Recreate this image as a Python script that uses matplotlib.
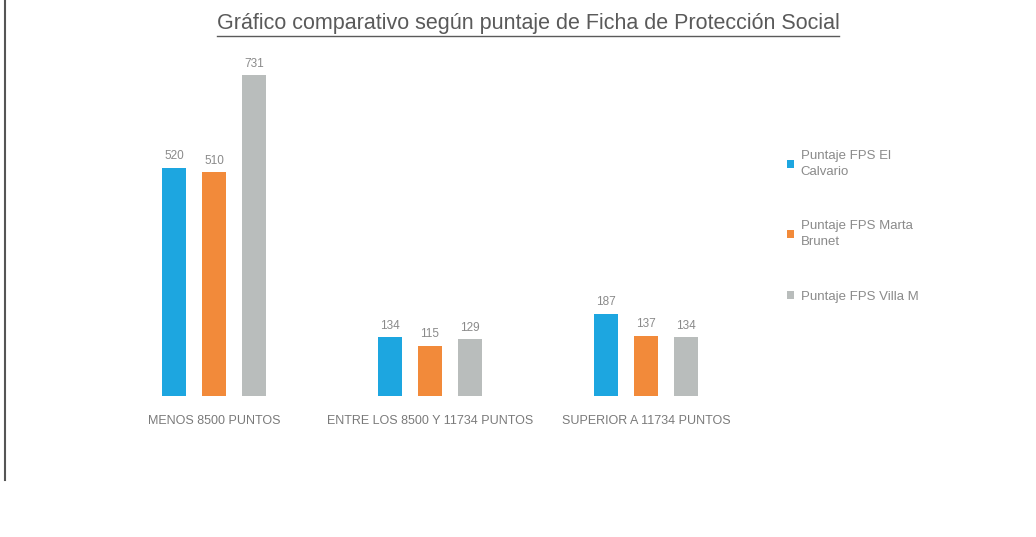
import matplotlib
matplotlib.use("Agg")
import matplotlib.pyplot as plt
from matplotlib.lines import Line2D
from matplotlib.patches import Patch
import numpy as np

categories = ["MENOS 8500 PUNTOS", "ENTRE LOS 8500 Y 11734 PUNTOS", "SUPERIOR A 11734 PUNTOS"]
series_names = ["Puntaje FPS El\nCalvario", "Puntaje FPS Marta\nBrunet", "Puntaje FPS Villa M"]
calvario = [520, 134, 187]
brunet = [510, 115, 137]
villa = [731, 129, 134]
title = "Gráfico comparativo según puntaje de Ficha de Protección Social"

colors = ["#1da6e0", "#f28a3a", "#b9bdbc"]
text_gray = "#7a7a7a"

plt.rcParams['font.family'] = ['Liberation Sans', 'DejaVu Sans']

W, H = 1036, 537
fig = plt.figure(figsize=(W / 100, H / 100), dpi=100)
fig.patch.set_facecolor("white")

# axes placement in pixels
left_px, right_px, top_px, base_px = 100, 760, 60, 396
ax = fig.add_axes([left_px / W, (H - base_px) / H, (right_px - left_px) / W, (base_px - top_px) / H])
ax.set_facecolor("none")

x = np.arange(len(categories))
width = 0.111
offset = 0.185
all_series = [calvario, brunet, villa]
for i, (vals, col, name) in enumerate(zip(all_series, colors, series_names)):
    bars = ax.bar(x + (i - 1) * offset, vals, width, color=col, label=name)
    for b, v in zip(bars, vals):
        ax.annotate(str(v), (b.get_x() + b.get_width() / 2, v), xytext=(0, 4),
                    textcoords="offset points", ha="center", va="bottom",
                    fontsize=8.5, color="#8a8a8a")

ax.set_xlim(-0.528, 2.528)
ax.set_ylim(0, 766)
ax.set_xticks(x)
ax.set_xticklabels(categories, fontsize=9, color=text_gray)
ax.tick_params(axis="x", length=0, pad=14)
ax.set_yticks([])
for s in ax.spines.values():
    s.set_visible(False)

handles = [Patch(facecolor=c, edgecolor="none") for c in colors]
leg = fig.legend(handles, series_names, loc="upper left", bbox_to_anchor=(787 / W, 1 - 150 / H),
                 frameon=False, fontsize=9.5, labelcolor="#8a8a8a", labelspacing=3.2,
                 handlelength=0.55, handleheight=0.55, handletextpad=0.5, borderaxespad=0, borderpad=0)
for txt in leg.get_texts():
    txt.set_linespacing(1.45)

t = fig.text(528 / W, 1 - 24 / H, title, ha="center", va="center", fontsize=15.5, color="#5a5a5a")

fig.canvas.draw()
bb = t.get_window_extent(fig.canvas.get_renderer())
y_ul = (bb.y0 - 1) / H
fig.add_artist(Line2D([bb.x0 / W, bb.x1 / W], [y_ul, y_ul], color="#5a5a5a", lw=1.0))

# scanned page left border
fig.add_artist(Line2D([5 / W, 5 / W], [1 - 480 / H, 1.0], color="#555555", lw=1.5))

fig.savefig("out.png", dpi=100, facecolor="white")
